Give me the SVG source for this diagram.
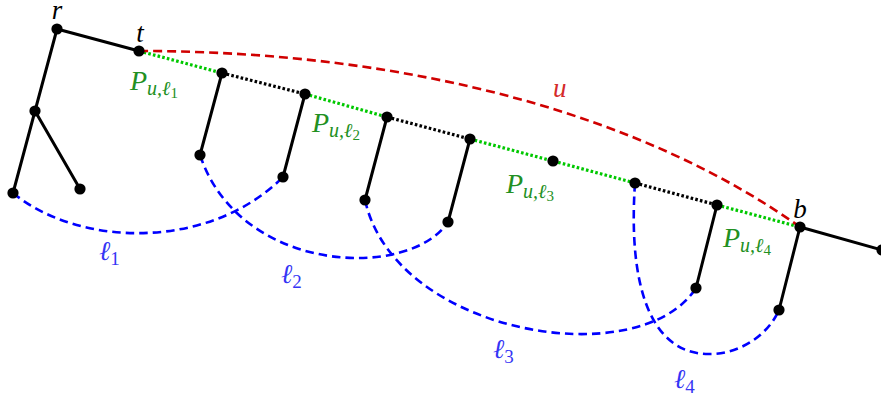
<svg xmlns="http://www.w3.org/2000/svg" width="881" height="398" viewBox="0 0 881 398">
<style>
.tree{stroke:#000;stroke-width:3;fill:none;stroke-linecap:round}
.gdot{stroke:#00c800;stroke-width:3.2;fill:none;stroke-dasharray:2.6 2.2}
.kdot{stroke:#000;stroke-width:3.2;fill:none;stroke-dasharray:2.6 2.2}
.blue{stroke:#0000ff;stroke-width:2.6;fill:none;stroke-dasharray:8.5 5}
.red{stroke:#d00000;stroke-width:2.6;fill:none;stroke-dasharray:9 5}
.node circle{fill:#000}
.lbl{font-family:"Liberation Serif","DejaVu Serif",serif;font-style:italic;font-size:27px}
.pl{fill:#229022;font-size:28px}
.ll{fill:#3535f5}
.ul{fill:#d42a2a}
.bk{fill:#000}
.up{font-style:normal}
</style>
<g id="connectors">
<path class="tree" d="M57,29 L139,51"/>
<path class="tree" d="M57,29 L35,111"/>
<path class="tree" d="M35,111 L13,193"/>
<path class="tree" d="M35,111 L80,189"/>
<path class="tree" d="M222,73 L200,155"/>
<path class="tree" d="M305,94 L283,177"/>
<path class="tree" d="M387,117 L365,200"/>
<path class="tree" d="M470,139 L448,222"/>
<path class="tree" d="M717,205 L696,288"/>
<path class="tree" d="M800,227 L779,310"/>
<path class="tree" d="M800,227 L882,250"/>
<path class="gdot" d="M139,51 L222,73"/>
<path class="kdot" d="M222,73 L305,94"/>
<path class="gdot" d="M305,94 L387,117"/>
<path class="kdot" d="M387,117 L470,139"/>
<path class="gdot" d="M470,139 L553,161 L635,183"/>
<path class="kdot" d="M635,183 L717,205"/>
<path class="gdot" d="M717,205 L800,227"/>
<path class="red" d="M139,51 C420,51 650,120 800,227"/>
<path class="blue" d="M13,193 C80,248 210,250 283,177"/>
<path class="blue" d="M200,155 C240,275 410,280 448,222"/>
<path class="blue" d="M365,200 C395,335 640,375 696,288"/>
<path class="blue" d="M635,183 C628,285 650,355 710,354 C740,354 768,335 779,310"/>
</g>
<g id="node-r" class="node"><circle cx="57" cy="29" r="5.6"/><text class="lbl bk" x="57" y="19" text-anchor="middle">r</text></g>
<g id="node-t" class="node"><circle cx="139" cy="51" r="5.6"/><text class="lbl bk" x="140" y="42" text-anchor="middle">t</text></g>
<g id="node-m" class="node"><circle cx="35" cy="111" r="5.6"/></g>
<g id="node-l0a" class="node"><circle cx="13" cy="193" r="5.6"/></g>
<g id="node-l0b" class="node"><circle cx="80" cy="189" r="5.6"/></g>
<g id="node-a1" class="node"><circle cx="222" cy="73" r="5.6"/></g>
<g id="node-a2" class="node"><circle cx="305" cy="94" r="5.6"/></g>
<g id="node-a3" class="node"><circle cx="387" cy="117" r="5.6"/></g>
<g id="node-a4" class="node"><circle cx="470" cy="139" r="5.6"/></g>
<g id="node-a5" class="node"><circle cx="553" cy="161" r="5.6"/></g>
<g id="node-a6" class="node"><circle cx="635" cy="183" r="5.6"/></g>
<g id="node-a7" class="node"><circle cx="717" cy="205" r="5.6"/></g>
<g id="node-b" class="node"><circle cx="800" cy="227" r="5.6"/><text class="lbl bk" x="800" y="218" text-anchor="middle">b</text></g>
<g id="node-end" class="node"><circle cx="882" cy="250" r="5.6"/></g>
<g id="node-f1" class="node"><circle cx="200" cy="155" r="5.6"/></g>
<g id="node-f2" class="node"><circle cx="283" cy="177" r="5.6"/></g>
<g id="node-f3" class="node"><circle cx="365" cy="200" r="5.6"/></g>
<g id="node-f4" class="node"><circle cx="448" cy="222" r="5.6"/></g>
<g id="node-f7" class="node"><circle cx="696" cy="288" r="5.6"/></g>
<g id="node-fb" class="node"><circle cx="779" cy="310" r="5.6"/></g>
<g id="labels">
<text class="lbl ul" x="553" y="97">u</text>
<text class="lbl pl" x="130" y="90">P<tspan font-size="20" dy="5">u,ℓ</tspan><tspan class="up" font-size="15" dy="3">1</tspan></text>
<text class="lbl pl" x="312" y="132">P<tspan font-size="20" dy="5">u,ℓ</tspan><tspan class="up" font-size="15" dy="3">2</tspan></text>
<text class="lbl pl" x="506" y="193">P<tspan font-size="20" dy="5">u,ℓ</tspan><tspan class="up" font-size="15" dy="3">3</tspan></text>
<text class="lbl pl" x="723" y="247">P<tspan font-size="20" dy="5">u,ℓ</tspan><tspan class="up" font-size="15" dy="3">4</tspan></text>
<text class="lbl ll" x="99" y="260">ℓ<tspan class="up" font-size="19" dy="5">1</tspan></text>
<text class="lbl ll" x="281" y="283">ℓ<tspan class="up" font-size="19" dy="5">2</tspan></text>
<text class="lbl ll" x="493" y="358">ℓ<tspan class="up" font-size="19" dy="5">3</tspan></text>
<text class="lbl ll" x="674" y="388">ℓ<tspan class="up" font-size="19" dy="5">4</tspan></text>
</g>
</svg>
